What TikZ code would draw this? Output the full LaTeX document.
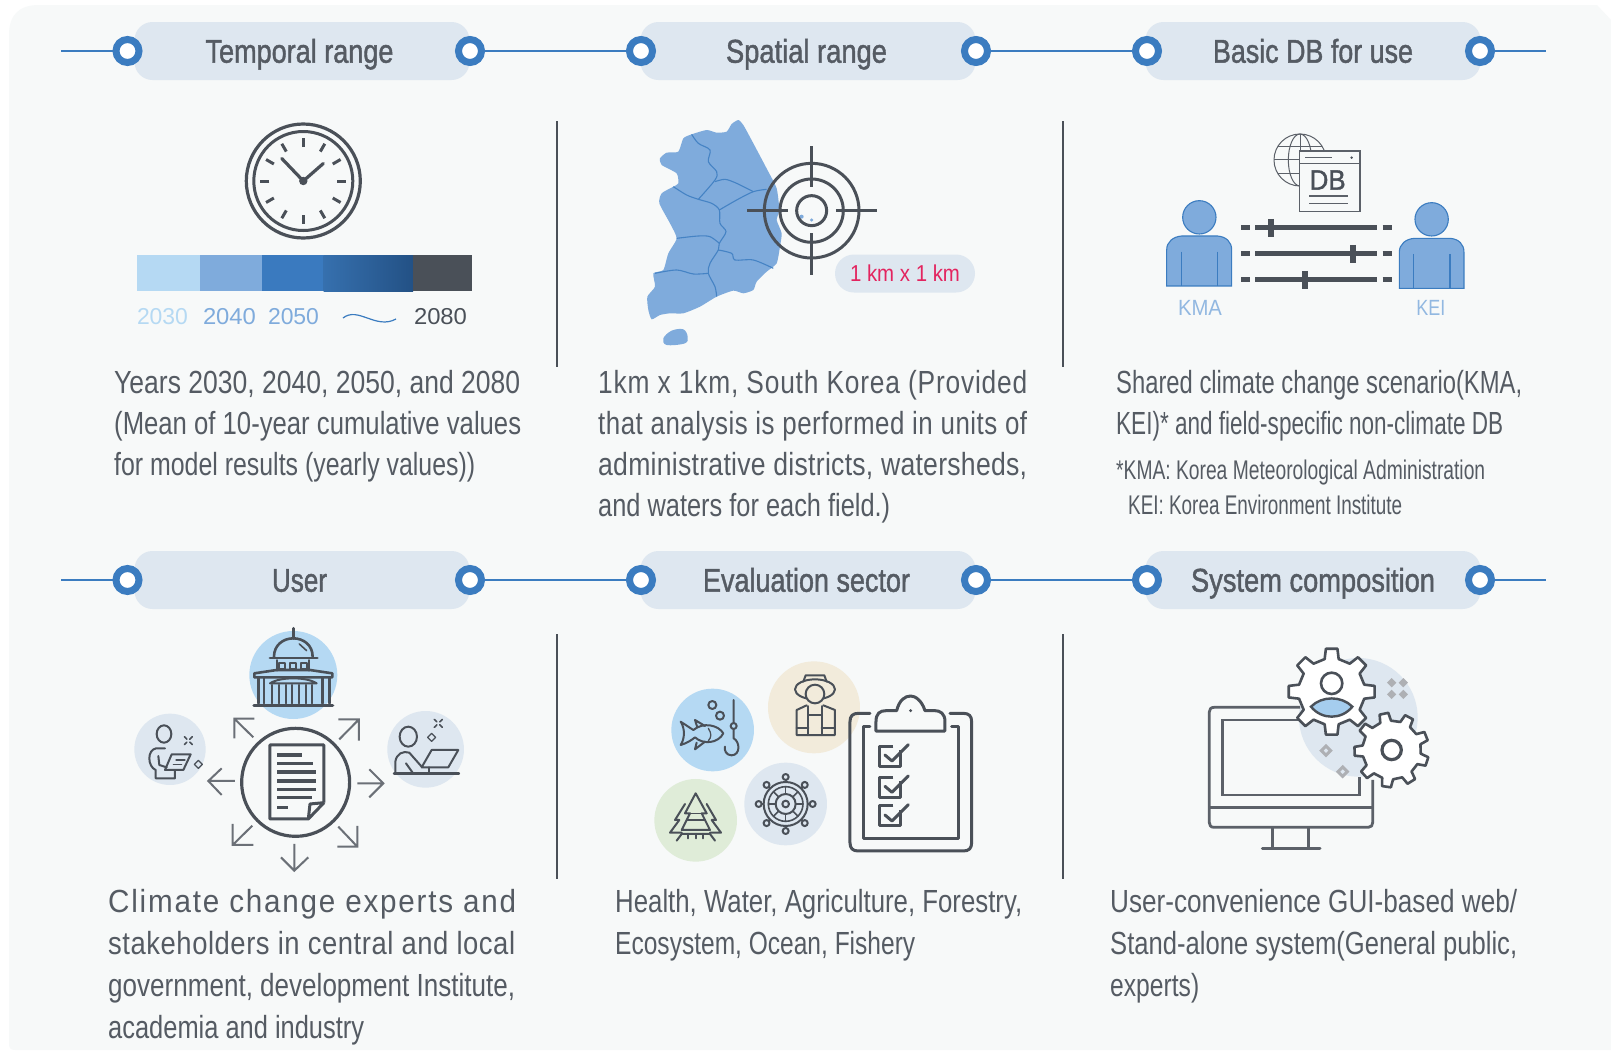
\documentclass[tikz,border=0pt]{standalone}
\usepackage{fontspec}
\usepackage{graphicx}
\setmainfont{Liberation Sans}
\newfontfamily\hdfont[FakeBold=1.5]{Liberation Sans}
\usetikzlibrary{calc}
\definecolor{panel}{HTML}{F7F9F9}
\definecolor{pillc}{HTML}{DEE7F0}
\definecolor{ringc}{HTML}{3B7CC0}
\definecolor{ink}{HTML}{4A5058}
\definecolor{txt}{HTML}{555B63}
\definecolor{mapc}{HTML}{7FABDC}
\definecolor{skyc}{HTML}{B5D9F3}
\definecolor{midc}{HTML}{3A7ABF}
\definecolor{sandc}{HTML}{F2EBDB}
\definecolor{leafc}{HTML}{DFECD8}
\definecolor{arrowc}{HTML}{6B7077}
\definecolor{tagc}{HTML}{E3245F}
\definecolor{lensc}{HTML}{A5CDEE}
\newcommand{\fl}[2]{\resizebox{#1pt}{\height}{#2}}
\newcommand{\tr}[1]{\addfontfeature{LetterSpace=#1}}
\newcommand{\gearp}[4]{% teeth, outer, inner, phase
 \pgfmathsetmacro{\gs}{360/#1}\pgfmathsetmacro{\ga}{\gs*0.27}\pgfmathsetmacro{\gb}{\gs*0.17}
 \pgfmathtruncatemacro{\gn}{#1-1}
 \draw[gearl] ({#4-\ga}:#3)
 \foreach \i in {0,...,\gn}{ -- ({#4+\i*\gs-\ga}:#3) -- ({#4+\i*\gs-\gb}:#2) -- ({#4+\i*\gs+\gb}:#2) -- ({#4+\i*\gs+\ga}:#3)} -- cycle;}
\tikzset{
 x=1pt,y=-1pt,
 pillbox/.style={fill=pillc,rounded corners=18pt},
 ring/.style={circle,draw=ringc,line width=7pt,fill=white,minimum size=23pt,inner sep=0pt},
 link/.style={draw=ringc,line width=1.4pt},
 head/.style={font=\hdfont\fontsize{33}{36}\selectfont,text=txt,inner sep=0pt,anchor=base},
 para/.style={anchor=north west,inner sep=0pt,align=left,text=txt,font=\fontsize{32}{41}\selectfont},
 para2/.style={para,font=\fontsize{32}{42}\selectfont},
 foot/.style={anchor=north west,inner sep=0pt,align=left,text=txt,font=\fontsize{27}{35}\selectfont},
 divider/.style={draw=ink,line width=1.5pt},
 icon/.style={draw=ink,line width=2.4pt,line join=round,line cap=round},
 thin icon/.style={draw=ink,line width=2pt,line join=round,line cap=round},
 gearl/.style={draw=ink,fill=white,line width=2.6pt,line join=round},
 dirarrow/.style={draw=arrowc,line width=2pt,line join=miter},
 small/.style={inner sep=0pt,font=\fontsize{23}{28}\selectfont},
 person/.style={fill=mapc,draw=ringc,line width=1.1pt},
 sliderl/.style={draw=ink,line width=5pt},
 sprk/.style={fill=ink!45,draw=none},
}
\newcommand{\hdrow}[5]{%
 \coordinate (l#1) at (61,#2);
 \node[pillbox,draw=none,minimum width=335pt,minimum height=58pt,inner sep=0pt] (pa#1) at (302,#2) {};
 \node[pillbox,draw=none,minimum width=335pt,minimum height=58pt,inner sep=0pt] (pb#1) at (808,#2) {};
 \node[pillbox,draw=none,minimum width=335pt,minimum height=58pt,inner sep=0pt] (pc#1) at (1313,#2) {};
 \coordinate (r#1) at (1546,#2);
 \node[ring] (ra#1) at (127.5,#2) {};
 \node[ring] (rb#1) at (470,#2) {};
 \node[ring] (rc#1) at (641,#2) {};
 \node[ring] (rd#1) at (976,#2) {};
 \node[ring] (re#1) at (1147,#2) {};
 \node[ring] (rf#1) at (1480,#2) {};
 \draw[link] (l#1) -- (ra#1);
 \draw[link] (rb#1) -- (rc#1);
 \draw[link] (rd#1) -- (re#1);
 \draw[link] (rf#1) -- (r#1);
 \node[head] (ta#1) at (299.5,#2+11.7) {#3};
 \node[head] (tb#1) at (806.5,#2+11.7) {#4};
 \node[head] (tc#1) at (1313,#2+11.7) {#5};
}
\begin{document}
\begin{tikzpicture}
\useasboundingbox (0,0) rectangle (1611,1050);
\fill[white] (0,0) rectangle (1611,1050);
\fill[panel] (39,5) -- (1597,5) -- (1611,20) -- (1611,1050) -- (15,1050) .. controls (11,1050) and (9,1048) .. (9,1044) -- (9,35) .. controls (9,15) and (19,5) .. (39,5) -- cycle;
% header rows
\hdrow{one}{51}{\fl{188}{Temporal range}}{\fl{161}{Spatial range}}{\fl{200}{Basic DB for use}}
\hdrow{two}{580}{\fl{55}{User}}{\fl{207}{Evaluation sector}}{\fl{244}{System composition}}
% dividers
\foreach \n/\x/\a/\b in {da/557/121/367,db/1063/121/367,dc/557/634/879,dd/1063/634/879}{
 \coordinate (\n t) at (\x,\a); \coordinate (\n b) at (\x,\b);
 \draw[divider] (\n t) -- (\n b);}
% paragraphs
\node[para] (p1) at (114,370.5) {\fl{406}{Years 2030, 2040, 2050, and 2080}\\\fl{407}{(Mean of 10-year cumulative values}\\\fl{361}{for model results (yearly values))}};
\node[para] (p2) at (598,370.5) {\fl{429}{\tr{3}1km x 1km, South Korea (Provided}\\\fl{429}{\tr{2}that analysis is performed in units of}\\\fl{429}{\tr{1}administrative districts, watersheds,}\\\fl{292}{and waters for each field.)}};
\node[para] (p3) at (1116,370.5) {\fl{406}{Shared climate change scenario(KMA,}\\\fl{387}{KEI)* and field-specific non-climate DB}};
\node[foot] (p3b) at (1116,459.5) {\fl{369}{*KMA: Korea Meteorological Administration}\\\hspace*{12pt}\fl{274}{KEI: Korea Environment Institute}};
\node[para2] (p4) at (108,889) {\fl{408}{\tr{6}Climate change experts and}\\\fl{407}{\tr{2}stakeholders in central and local}\\\fl{407}{government, development Institute,}\\\fl{256}{academia and industry}};
\node[para2] (p5) at (615,889) {\fl{407}{Health, Water, Agriculture, Forestry,}\\\fl{300}{Ecosystem, Ocean, Fishery}};
\node[para2] (p6) at (1110,889) {\fl{407}{User-convenience GUI-based web/}\\\fl{407}{Stand-alone system(General public,}\\\fl{89}{experts)}};
% clock
\begin{scope}[shift={(303.3,181)}]
 \draw[icon,line width=3.2pt] (0,0) circle (57);
 \draw[icon,line width=3pt] (0,0) circle (49.5);
 \foreach \a in {0,30,...,330}{\draw[icon,line width=3pt,line cap=butt] (\a:34) -- (\a:43);}
 \draw[icon,line width=3.2pt] (-21.5,-22.5) -- (0,0) -- (20,-17.5);
 \fill[ink] (0,0) circle (4.2);
\end{scope}
% time bar
\fill[skyc] (137,255) rectangle (199.5,291);
\fill[mapc] (199.5,255) rectangle (261.5,291);
\fill[midc] (261.5,255) rectangle (323.5,291);
\definecolor{gradl}{HTML}{3670AE}\definecolor{gradr}{HTML}{235185}
\shade[left color=gradl,right color=gradr] (323.5,255) rectangle (413,291);
\fill[ink] (413,255) rectangle (472,291);
\node[small,text=skyc] (y30) at (162.5,317) {\fl{51}{2030}};
\node[small,text=mapc] (y40) at (229.5,317) {\fl{53}{2040}};
\node[small,text=mapc] (y50) at (293.5,317) {\fl{51}{2050}};
\node[small,text=ink] (y80) at (440.5,317) {\fl{53}{2080}};
\coordinate (w1) at (343,318); \coordinate (w2) at (396,319);
\draw[ringc,line width=1.2pt] (w1) .. controls (358,306) and (376,330) .. (w2);
% map
\begin{scope}[shift={(620,100)},x=0.3333pt,y=-0.3333pt]
 \fill[mapc] plot[smooth cycle,tension=.35] coordinates {(355,60)(370,75)(400,130)(445,215)(470,265)(478,330)(470,360)(485,400)(480,440)(470,490)(440,515)(410,545)(400,570)(370,580)(340,572)(290,590)(240,620)(190,640)(150,640)(120,645)(95,658)(85,630)(82,590)(105,560)(100,520)(130,510)(145,460)(170,415)(150,370)(118,310)(125,280)(160,260)(175,250)(170,220)(125,195)(120,175)(140,158)(175,155)(190,115)(215,103)(260,90)(290,98)(320,95)(335,72)};
 \fill[mapc] plot[smooth cycle,tension=.6] coordinates {(130,715)(155,692)(190,688)(203,710)(195,730)(140,735)};
 \begin{scope}[draw=ringc!85!mapc,line width=1.1pt]
 \draw plot[smooth,tension=.5] coordinates {(215,103)(235,130)(270,150)(265,185)(290,215)(285,240)(235,298)};
 \draw plot[smooth,tension=.5] coordinates {(160,260)(200,285)(235,298)(275,310)(298,330)(300,370)(318,395)(298,430)(295,450)(270,490)(265,520)(285,560)(290,590)};
 \draw plot[smooth,tension=.5] coordinates {(285,245)(315,238)(350,250)(400,275)};
 \draw plot[smooth,tension=.5] coordinates {(440,268)(400,275)(350,300)(298,330)};
 \draw plot[smooth,tension=.5] coordinates {(170,415)(235,408)(270,410)(298,430)};
 \draw plot[smooth,tension=.5] coordinates {(295,450)(335,460)(345,480)(400,480)(460,505)};
 \draw plot[smooth,tension=.5] coordinates {(105,520)(170,510)(220,522)(265,520)};
 \end{scope}
 \fill[mapc] (545,350) circle (6) (575,360) circle (5);
 \begin{scope}[shift={(575,332)}]
 \draw[icon,line width=3pt] (0,0) circle (142) (0,0) circle (95) (0,0) circle (45);
 \draw[icon,line width=3.4pt,line cap=butt] (-193,0) -- (-70,0) (73,0) -- (195,0) (0,-194) -- (0,-70) (0,68) -- (0,193);
 \end{scope}
\end{scope}
\node[fill=pillc,rounded corners=19pt,minimum width=140pt,minimum height=38pt,inner sep=0pt,text=tagc,font=\fontsize{23}{28}\selectfont] (kmtag) at (905,273.5) {\fl{110}{1 km x 1 km}};
% DB sharing
\begin{scope}[shift={(1140,110)},x=0.3333pt,y=-0.3333pt]
 \begin{scope}[draw=ink!90,line width=1pt]
 \draw (480,150) circle (78);
 \draw (480,150) ellipse (35 and 78);
 \draw (480,72) -- (480,228) (402,150) -- (558,150) (415,108) -- (545,108) (415,192) -- (545,192);
 \fill[panel] (478,123) rectangle (660,305);
 \draw[line width=1.6pt] (478,123) rectangle (660,305);
 \draw[line width=1.3pt] (478,160) -- (660,160);
 \draw[line width=1.6pt] (495,143) -- (575,143);
 \fill[ink] (635,143) circle (4);
 \draw[line width=1.4pt] (508,258) -- (625,258) (508,281) -- (625,281);
 \end{scope}
 \node[inner sep=0pt,text=ink,font=\hdfont\fontsize{28}{32}\selectfont] (dbl) at (563,210) {\fl{36}{DB}};
 \foreach \y/\h in {354/393,432/640,510/496}{
 \draw[sliderl] (303,\y) -- (330,\y) (345,\y) -- (710,\y) (728,\y) -- (757,\y);
 \draw[draw=ink,line width=6pt] (\h,\y-27) -- (\h,\y+27);}
 % persons
 \draw[person] (80,528) -- (80,420) .. controls (80,395) and (100,380) .. (125,378) -- (232,378) .. controls (258,380) and (275,395) .. (275,420) -- (275,528) -- cycle;
 \draw[person] (178,322) circle (50);
 \draw[draw=ringc,line width=1.1pt] (125,425) -- (125,528) (232,425) -- (232,528);
 \draw[person] (778,535) -- (778,427) .. controls (778,402) and (798,387) .. (823,385) -- (930,385) .. controls (956,387) and (972,402) .. (972,427) -- (972,535) -- cycle;
 \draw[person] (875,328) circle (50);
 \draw[draw=ringc,line width=1.1pt] (820,432) -- (820,535) (930,432) -- (930,535);
 \node[small,text=mapc!85!white,font=\fontsize{22}{26}\selectfont] (kma) at (180,595) {\fl{44}{KMA}};
 \node[small,text=mapc!85!white,font=\fontsize{22}{26}\selectfont] (kei) at (873,595) {\fl{29}{KEI}};
\end{scope}
% users
\begin{scope}[shift={(120,620)},x=0.3333pt,y=-0.3333pt]
 \fill[skyc] (520,165) circle (132);
 \fill[pillc] (150,388) circle (107) (917,388) circle (115);
 \draw[icon,line width=3.2pt] (527,487) circle (162);
 \draw[icon,line width=3pt,line cap=butt] (612,548) -- (612,375) -- (450,375) -- (450,597) -- (565,597) -- (612,548) (612,548) -- (570,552) -- (565,597);
 \foreach \y/\e in {405/545,430/580,456/588,483/588,508/588,533/575,563/503}{\draw[draw=ink,line width=3.2pt] (472,\y) -- (\e,\y);}
 % arrows
 \foreach \ax/\ay/\tx/\ty/\px/\py/\qx/\qy in {345/483/265/483/305/445/305/525,712/490/790/490/748/448/748/532,523/672/523/752/483/712/565/712,400/352/343/296/403/296/343/355,658/358/717/298/655/298/717/362,397/617/338/675/338/612/400/675,655/620/712/680/712/618/652/680}{
  \draw[dirarrow] (\ax,\ay) -- (\tx,\ty) (\px,\py) -- (\tx,\ty) -- (\qx,\qy);}
 % building
 \draw[thin icon,line width=3pt] (520,25) -- (520,55);
 \draw[thin icon,line width=2.6pt] (462,110) .. controls (462,75) and (490,55) .. (520,55) .. controls (550,55) and (578,75) .. (578,110);
 \draw[thin icon,line width=1.6pt] (538,72) -- (560,92);
 \draw[thin icon,line width=2.8pt] (450,114) -- (592,114);
 \draw[thin icon] (472,120) -- (472,152) (568,120) -- (568,152);
 \foreach \x in {487,519,552}{\draw[thin icon] (\x-9,130) rectangle (\x+9,148);}
 \draw[thin icon,line width=2.6pt] (403,172) -- (403,160) -- (470,150) -- (570,150) -- (637,160) -- (637,172) -- cycle;
 \foreach \x in {415,432,608,628}{\draw[thin icon,line width=2.4pt] (\x,175) -- (\x,250);}
 \draw[thin icon] (450,190) .. controls (480,170) and (560,170) .. (590,190) -- cycle;
 \foreach \x in {457,477,497,517,537,557,577}{\draw[thin icon,line width=2.2pt] (\x,195) -- (\x,250);}
 \draw[thin icon,line width=3.4pt] (402,257) -- (638,257);
 % left user
 \draw[thin icon] (132,342) ellipse (22 and 26);
 \draw[thin icon] (135,385) -- (108,385) .. controls (95,388) and (88,400) .. (88,415) .. controls (88,430) and (95,445) .. (107,450) -- (107,475) -- (165,475) -- (165,452);
 \draw[thin icon] (115,408) -- (118,435) -- (140,442);
 \draw[thin icon] (155,403) -- (212,403) -- (190,450) -- (135,450) -- cycle;
 \draw[thin icon,line width=1.3pt] (168,420) -- (195,420) (160,434) -- (185,434);
 \foreach \a in {45,135,225,315}{\draw[thin icon,line width=1.6pt] (205,362)+(\a:6) -- +(\a:17);
   \draw[thin icon,line width=1.6pt] (955,310)+(\a:6) -- +(\a:17);}
 \draw[thin icon,line width=1.2pt] (235,421) -- (247,433) -- (235,445) -- (223,433) -- cycle;
 % right user
 \draw[thin icon] (865,350) ellipse (26 and 30);
 \draw[thin icon] (826,458) -- (826,425) .. controls (830,400) and (850,392) .. (868,398) -- (905,440);
 \draw[thin icon] (858,430) -- (878,458);
 \draw[thin icon] (935,390) -- (1015,390) -- (985,442) -- (905,442) -- cycle;
 \draw[thin icon] (926,442) -- (926,458);
 \draw[thin icon,line width=2.4pt] (822,460) -- (1017,460);
 \draw[thin icon,line width=1.2pt] (935,340) -- (947,352) -- (935,364) -- (923,352) -- cycle;
\end{scope}
% sectors
\begin{scope}[shift={(640,650)},x=0.3333pt,y=-0.3333pt]
 \fill[skyc] (218,240) circle (124);
 \fill[sandc] (522,172) circle (138);
 \fill[pillc] (437,462) circle (124);
 \fill[leafc] (167,511) circle (124);
 % fish and hook
 \draw[thin icon] (122,215) .. controls (135,235) and (135,265) .. (122,285) .. controls (140,280) and (155,270) .. (165,262) .. controls (190,285) and (235,280) .. (250,250) .. controls (235,225) and (190,215) .. (160,240) -- cycle;
 \draw[thin icon] (165,210) -- (195,228) (165,210) -- (172,232) (170,278) -- (165,298) -- (195,275);
 \draw[thin icon,line width=1.3pt] (205,235) .. controls (215,250) and (215,262) .. (205,272);
 \draw[thin icon] (281,150) -- (281,218) (281,238) -- (281,265) .. controls (300,275) and (302,315) .. (275,316) .. controls (258,316) and (252,300) .. (255,290);
 \draw[thin icon] (281,228) circle (9);
 \draw[thin icon] (217,165) circle (12) (240,197) circle (12);
 % farmer
 \draw[thin icon] (525,118) ellipse (60 and 30);
 \draw[thin icon] (490,95) -- (497,76) -- (553,76) -- (560,95);
 \draw[thin icon,fill=sandc] (525,132) circle (28);
 \draw[thin icon] (500,166) -- (470,180) -- (470,255) -- (585,255) -- (585,180) -- (550,166);
 \draw[thin icon] (505,168) -- (505,255) (545,168) -- (545,255) (505,195) -- (545,195) (470,235) -- (505,235) (545,235) -- (585,235);
 % wheel
 \begin{scope}[shift={(437,462)}]
 \draw[thin icon] (0,0) circle (10) (0,0) circle (30);
 \draw[thin icon,line width=1.6pt] (0,0) circle (52);
 \draw[thin icon] (0,0) circle (66);
 \foreach \a in {0,45,...,315}{\draw[thin icon,line width=1.6pt] (\a:30) -- (\a:52); \draw[thin icon] (\a:66) -- (\a:73); \draw[thin icon,fill=pillc] (\a:81) circle (9);}
 \end{scope}
 % trees
 \draw[thin icon] (167,430) -- (135,490) -- (150,490) -- (125,540) -- (210,540) -- (185,490) -- (200,490) -- cycle;
 \draw[thin icon,line width=1.5pt] (135,490) -- (200,490) (140,510) -- (195,510);
 \draw[thin icon] (135,462) -- (105,510) -- (118,510) -- (90,548) -- (125,548) (200,462) -- (228,510) -- (215,510) -- (243,548) -- (210,548);
 \draw[thin icon] (110,572) -- (125,552) -- (210,552) -- (225,572);
 \draw[thin icon] (143,552) -- (143,565) (167,552) -- (167,565) (190,552) -- (190,565);
 % clipboard
 \draw[icon,line width=3pt] (690,190) -- (655,190) .. controls (638,190) and (630,198) .. (630,215) -- (630,578) .. controls (630,595) and (638,603) .. (655,603) -- (970,603) .. controls (987,603) and (995,595) .. (995,578) -- (995,215) .. controls (995,198) and (987,190) .. (970,190) -- (930,190);
 \draw[icon,line width=3pt] (690,230) -- (670,230) -- (670,565) -- (955,565) -- (955,230) -- (935,230);
 \draw[icon,line width=3pt] (708,243) -- (915,243) -- (915,215) .. controls (915,190) and (900,182) .. (885,182) -- (855,182) .. controls (845,150) and (825,138) .. (812,138) .. controls (795,138) and (778,150) .. (770,182) -- (738,182) .. controls (720,182) and (708,190) .. (708,215) -- cycle;
 \fill[ink] (812,182) circle (5);
 \foreach \y in {288,382,468}{
  \draw[icon,line width=3pt,line cap=butt] (760,\y) -- (718,\y) -- (718,\y+60) -- (782,\y+60) -- (782,\y+12);
  \draw[icon,line width=3pt] (735,\y+27) -- (756,\y+45) -- (805,\y-4);}
\end{scope}
% system
\begin{scope}[shift={(1190,630)},x=0.3333pt,y=-0.3333pt]
 \fill[pillc] (505,262) circle (178);
 \foreach \x/\y in {605/158,640/158,605/193,640/193}{\fill[sprk] (\x,\y-14) -- (\x+14,\y) -- (\x,\y+14) -- (\x-14,\y) -- cycle;}
 \foreach \x/\y in {408/362,458/425}{\draw[draw=ink!45,line width=3pt] (\x,\y-14) -- (\x+14,\y) -- (\x,\y+14) -- (\x-14,\y) -- cycle;}
 \draw[draw=ink!90,line width=2.8pt,line join=round] (330,232) -- (72,232) .. controls (62,232) and (58,238) .. (58,246) -- (58,578) .. controls (58,586) and (62,592) .. (72,592) -- (535,592) .. controls (544,592) and (548,586) .. (548,578) -- (548,450);
 \draw[draw=ink!90,line width=2.8pt] (330,270) -- (97,270) -- (97,495) -- (508,495) -- (508,440);
 \draw[draw=ink!90,line width=2.8pt] (58,533) -- (548,533);
 \draw[draw=ink!90,line width=2.8pt] (248,592) -- (248,652) (355,592) -- (355,652);
 \draw[draw=ink!90,line width=3pt,line cap=round] (217,655) -- (390,655);
 \begin{scope}[shift={(425,185)}]
  \gearp{8}{130}{100}{0}
  \fill[fill=lensc,draw=ink,line width=2.4pt] (-62,45) .. controls (-30,12) and (30,12) .. (62,45) .. controls (30,85) and (-30,85) .. (-62,45) -- cycle;
  \fill[white,draw=ink,line width=2.6pt] (0,-25) circle (32);
 \end{scope}
 \begin{scope}[shift={(605,360)}]
  \gearp{9}{112}{88}{18}
  \draw[draw=ink,fill=white,line width=3.2pt] (0,0) circle (29);
 \end{scope}
\end{scope}
\end{tikzpicture}
\end{document}
